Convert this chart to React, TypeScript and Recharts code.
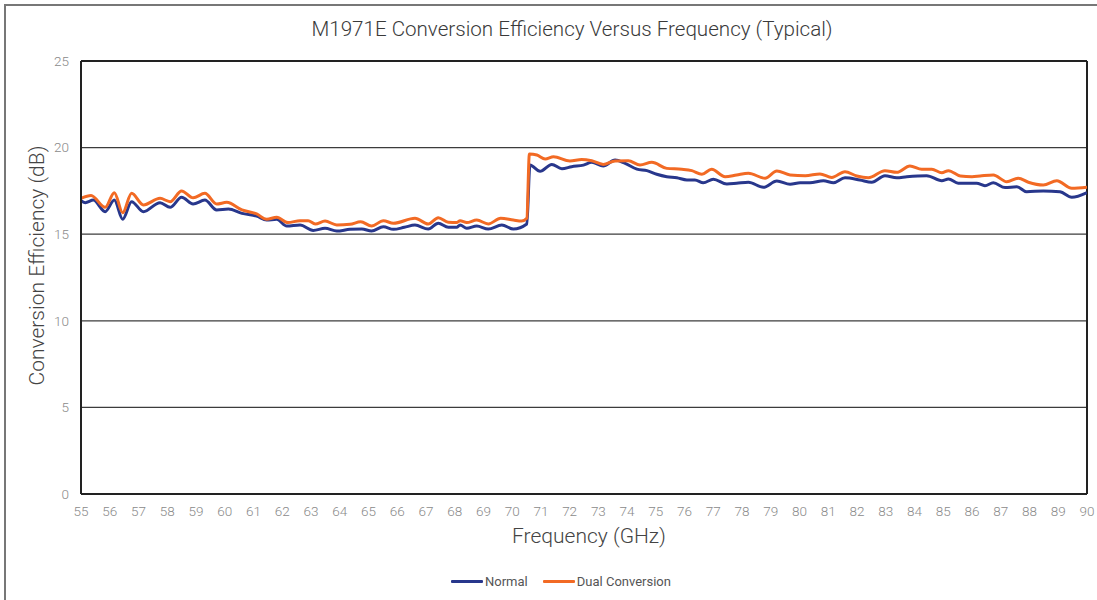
import React from 'react'
import {
  LineChart, Line, XAxis, YAxis, CartesianGrid, Legend, ReferenceLine,
} from 'recharts'

// ── Data ───────────────────────────────────────────────────────────────────
const normalFreq = [
  55, 55.15, 55.43, 55.84, 56.16, 56.45, 56.76, 57.17, 57.75, 58.1,
  58.5, 58.9, 59.31, 59.72, 60.13, 60.6, 61.11, 61.46, 61.81, 62.16,
  62.62, 63.08, 63.49, 63.9, 64.36, 64.77, 65.11, 65.52, 65.87, 66.25,
  66.62, 67.08, 67.43, 67.78, 68.07, 68.19, 68.42, 68.77, 69.17, 69.64,
  70.04, 70.51, 70.62, 70.97, 71.38, 71.73, 72.07, 72.48, 72.77, 73.17,
  73.58, 73.93, 74.34, 74.69, 75.03, 75.38, 75.73, 76.08, 76.36, 76.65,
  77.0, 77.47, 77.81, 78.22, 78.74, 79.21, 79.67, 80.02, 80.36, 80.83,
  81.18, 81.58, 82.1, 82.51, 82.97, 83.38, 83.73, 84.42, 84.95, 85.18,
  85.52, 86.16, 86.45, 86.74, 87.15, 87.56, 87.9, 88.48, 89.06, 89.47,
  90,
]
const normalValue = [
  16.93, 16.82, 16.97, 16.3, 16.97, 15.86, 16.88, 16.3, 16.82, 16.55,
  17.13, 16.74, 16.97, 16.4, 16.45, 16.2, 16.05, 15.82, 15.86, 15.47,
  15.53, 15.22, 15.34, 15.18, 15.28, 15.3, 15.18, 15.43, 15.28, 15.4,
  15.53, 15.3, 15.63, 15.4, 15.4, 15.53, 15.34, 15.47, 15.3, 15.53,
  15.3, 15.59, 18.99, 18.63, 19.03, 18.78, 18.9, 18.99, 19.15, 18.94,
  19.28, 19.09, 18.76, 18.67, 18.46, 18.32, 18.26, 18.13, 18.13, 17.97,
  18.17, 17.9, 17.94, 18.0, 17.71, 18.07, 17.88, 17.97, 17.97, 18.09,
  17.97, 18.26, 18.13, 18.0, 18.38, 18.26, 18.32, 18.38, 18.09, 18.19,
  17.94, 17.94, 17.8, 17.97, 17.69, 17.74, 17.45, 17.5, 17.45, 17.13,
  17.4,
]

const dualFreq = [
  55, 55.35, 55.84, 56.16, 56.45, 56.76, 57.17, 57.75, 58.1, 58.5,
  58.9, 59.31, 59.72, 60.07, 60.6, 61.11, 61.46, 61.81, 62.2, 62.62,
  62.9, 63.15, 63.49, 63.9, 64.36, 64.73, 65.11, 65.52, 65.87, 66.62,
  67.08, 67.43, 67.78, 68.07, 68.19, 68.42, 68.77, 69.17, 69.6, 70.04,
  70.33, 70.51, 70.6, 70.86, 71.15, 71.44, 72.01, 72.42, 72.77, 73.17,
  73.58, 74.04, 74.45, 74.86, 75.38, 75.9, 76.25, 76.6, 76.94, 77.41,
  77.81, 78.22, 78.8, 79.21, 79.67, 80.2, 80.71, 81.12, 81.58, 81.99,
  82.39, 82.97, 83.38, 83.84, 84.25, 84.6, 84.95, 85.18, 85.59, 86.0,
  86.28, 86.74, 87.21, 87.61, 87.96, 88.48, 88.95, 89.47, 90,
]
const dualValue = [
  17.07, 17.24, 16.55, 17.4, 16.24, 17.36, 16.69, 17.07, 16.88, 17.5,
  17.1, 17.36, 16.74, 16.84, 16.4, 16.17, 15.86, 15.98, 15.67, 15.78,
  15.78, 15.59, 15.76, 15.53, 15.57, 15.72, 15.47, 15.78, 15.63, 15.92,
  15.59, 15.95, 15.69, 15.67, 15.78, 15.67, 15.82, 15.59, 15.92, 15.82,
  15.76, 15.92, 19.63, 19.57, 19.34, 19.47, 19.23, 19.32, 19.24, 19.03,
  19.23, 19.24, 18.99, 19.15, 18.8, 18.75, 18.67, 18.46, 18.75, 18.32,
  18.42, 18.52, 18.23, 18.65, 18.42, 18.38, 18.48, 18.28, 18.61, 18.36,
  18.26, 18.67, 18.57, 18.94, 18.75, 18.75, 18.55, 18.67, 18.36, 18.32,
  18.36, 18.42, 18.03, 18.23, 18.0, 17.84, 18.09, 17.65, 17.71,
]

const seriesNames = ['Normal', 'Dual Conversion']

const xTicks = [
  55, 56, 57, 58, 59, 60, 61, 62, 63, 64, 65, 66, 67, 68, 69, 70, 71, 72,
  73, 74, 75, 76, 77, 78, 79, 80, 81, 82, 83, 84, 85, 86, 87, 88, 89, 90,
]
const yTicks = [0, 5, 10, 15, 20, 25]

const normalData = normalFreq.map((f, i) => ({ freq: f, value: normalValue[i] }))
const dualData = dualFreq.map((f, i) => ({ freq: f, value: dualValue[i] }))

const FONT = 'Roboto, "Noto Sans", sans-serif'
const NORMAL_COLOR = '#28378C'
const DUAL_COLOR = '#F26A24'

function YTitle(props: any) {
  const { viewBox } = props
  const cx = viewBox.x + 26
  const cy = viewBox.y + viewBox.height / 2 - 12
  return (
    <text
      x={cx}
      y={cy}
      transform={`rotate(-90 ${cx} ${cy})`}
      textAnchor="middle"
      dominantBaseline="central"
      fill="#444"
      fontSize={21}
      fontWeight={300}
      fontFamily={FONT}
    >
      Conversion Efficiency (dB)
    </text>
  )
}

function LegendContent(props: any) {
  // keep the legend in series order (recharts sorts it by name otherwise)
  const items = [...(props.payload ?? [])].sort(
    (a: any, b: any) => seriesNames.indexOf(a.value) - seriesNames.indexOf(b.value),
  )
  return (
    <div style={{ display: 'flex', justifyContent: 'center', alignItems: 'center', gap: 15, height: 20, fontFamily: FONT }}>
      {items.map((entry: any) => (
        <div key={entry.value} style={{ display: 'flex', alignItems: 'center' }}>
          <div style={{ width: 32, height: 3, background: entry.color, borderRadius: 1 }} />
          <span style={{ fontSize: 13, color: '#555', marginLeft: 2 }}>{entry.value}</span>
        </div>
      ))}
    </div>
  )
}

export default function App() {
  return (
    <div style={{ position: 'absolute', left: 0, top: 0, width: 1097, height: 600, overflow: 'hidden', background: '#fff' }}>
      {/* outer frame: only the left and top edges are inside the picture */}
      <div
        style={{
          position: 'absolute', left: 4, top: 4, width: 1093, height: 596,
          borderLeft: '2px solid #777', borderTop: '2px solid #777', boxSizing: 'border-box',
        }}
      />
      <div
        style={{
          position: 'absolute', left: 272, top: 17, width: 600, textAlign: 'center',
          fontFamily: FONT, fontSize: 20.6, fontWeight: 300, color: '#3a3a3a', lineHeight: '24px',
        }}
      >
        M1971E Conversion Efficiency Versus Frequency (Typical)
      </div>
      <div style={{ position: 'absolute', left: 0, top: 0 }}>
        <LineChart width={1097} height={600} margin={{ top: 61, right: 10, left: 11, bottom: 9 }}>
          <CartesianGrid horizontal vertical={false} stroke="#3c3c3c" strokeWidth={1.2} />
          <XAxis
            type="number"
            dataKey="freq"
            domain={[55, 90]}
            ticks={xTicks}
            interval={0}
            allowDataOverflow
            height={77}
            tickLine={false}
            tickSize={0}
            tickMargin={12}
            axisLine={{ stroke: '#222', strokeWidth: 2 }}
            tick={{ fontSize: 13.5, fill: '#8a8a8a', fontFamily: FONT, fontWeight: 300 }}
            label={{
              value: 'Frequency (GHz)', position: 'insideTop', offset: 34, dx: 5,
              fill: '#444', fontSize: 21, fontWeight: 300, fontFamily: FONT,
            }}
          />
          <YAxis
            type="number"
            domain={[0, 25]}
            ticks={yTicks}
            interval={0}
            width={70}
            tickLine={false}
            tickSize={0}
            tickMargin={12}
            axisLine={{ stroke: '#222', strokeWidth: 2 }}
            tick={{ fontSize: 13.5, fill: '#8a8a8a', fontFamily: FONT, fontWeight: 300 }}
            label={<YTitle />}
          />
          <ReferenceLine y={25} stroke="#222" strokeWidth={2} />
          <ReferenceLine x={90} stroke="#222" strokeWidth={2} />
          <Legend
            verticalAlign="bottom"
            content={<LegendContent />}
            wrapperStyle={{ left: 23, height: 20 }}
          />
          <Line
            data={normalData}
            dataKey="value"
            name={seriesNames[0]}
            type="monotone"
            stroke={NORMAL_COLOR}
            strokeWidth={3}
            dot={false}
            activeDot={false}
            isAnimationActive={false}
          />
          <Line
            data={dualData}
            dataKey="value"
            name={seriesNames[1]}
            type="monotone"
            stroke={DUAL_COLOR}
            strokeWidth={3}
            dot={false}
            activeDot={false}
            isAnimationActive={false}
          />
        </LineChart>
      </div>
    </div>
  )
}
